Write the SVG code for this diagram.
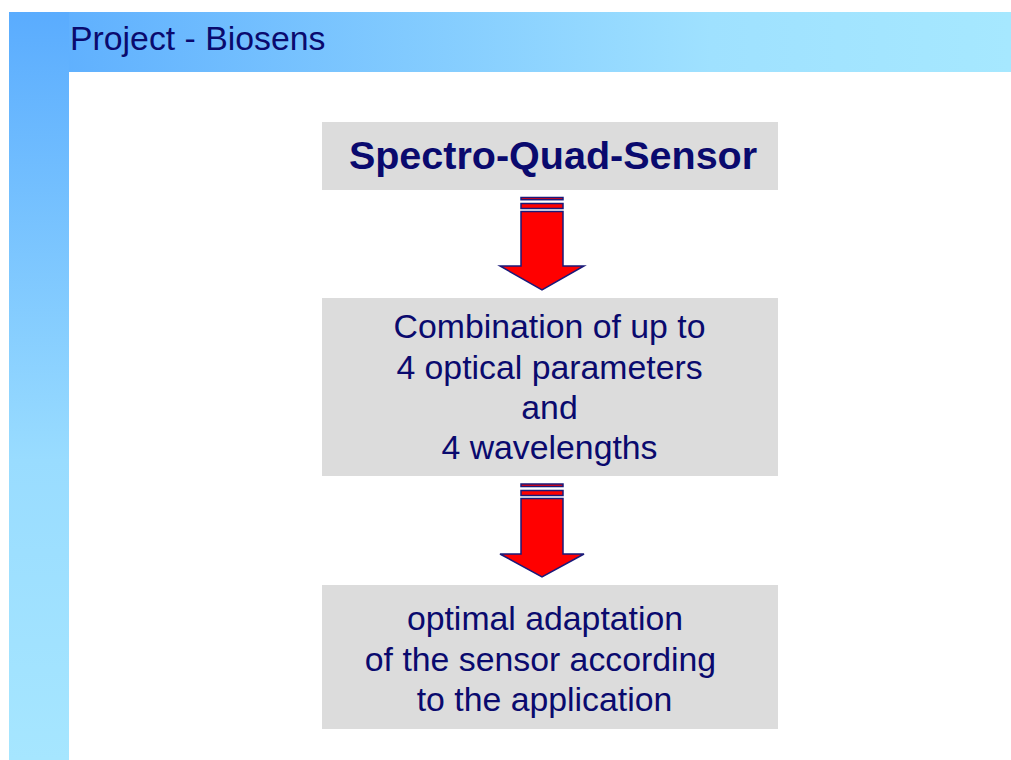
<svg xmlns="http://www.w3.org/2000/svg" width="1011" height="760" viewBox="0 0 1011 760">
<defs>
<linearGradient id="hg" x1="0" y1="0" x2="1" y2="0">
<stop offset="0" stop-color="#5aacfe"/>
<stop offset="0.7" stop-color="#9fe1ff"/>
<stop offset="1" stop-color="#a6e8ff"/>
</linearGradient>
<linearGradient id="vg" x1="0" y1="0" x2="0" y2="1">
<stop offset="0" stop-color="#5aacfe"/>
<stop offset="0.6" stop-color="#99dcff"/>
<stop offset="1" stop-color="#a6e6ff"/>
</linearGradient>
<style>
.box{fill:#dcdcdc}
.t{font-family:"Liberation Sans",Arial,sans-serif;fill:#0a0a6e;text-anchor:middle;font-size:33.8px}
.arr{fill:#ff0000;stroke:#1a1a7a;stroke-width:1.5;stroke-linejoin:miter}
</style>
</defs>
<rect width="1011" height="760" fill="#ffffff"/>
<g id="background">
<rect x="9" y="12" width="1002" height="60" fill="url(#hg)"/>
<rect x="9" y="12" width="60" height="748" fill="url(#vg)"/>
<text x="70" y="50" style="font-family:'Liberation Sans',Arial,sans-serif;font-size:33.8px;fill:#0a0a6e">Project - Biosens</text>
</g>
<g id="node1">
<rect class="box" x="322" y="122" width="456" height="68"/>
<text class="t" x="553" y="169" style="font-weight:bold;font-size:39.5px">Spectro-Quad-Sensor</text>
</g>
<g id="node2">
<rect class="box" x="322" y="298" width="456" height="178"/>
<text class="t" x="549.5" y="338">Combination of up to</text>
<text class="t" x="549.5" y="379">4 optical parameters</text>
<text class="t" x="549.5" y="419">and</text>
<text class="t" x="549.5" y="459">4 wavelengths</text>
</g>
<g id="node3">
<rect class="box" x="322" y="585" width="456" height="144"/>
<text class="t" x="545" y="630">optimal adaptation</text>
<text class="t" x="540.5" y="671">of the sensor according</text>
<text class="t" x="544.5" y="711">to the application</text>
</g>
<g id="connectors">
<g id="arrow1">
<rect class="arr" x="521" y="197.5" width="42" height="2.2"/>
<rect class="arr" x="521" y="203.5" width="42" height="5"/>
<polygon class="arr" points="521,211.5 563,211.5 563,266 584,266 542,290 500,266 521,266"/>
</g>
<g id="arrow2">
<rect class="arr" x="521" y="484" width="42" height="2.5"/>
<rect class="arr" x="521" y="490.5" width="42" height="5"/>
<polygon class="arr" points="521,498.5 563,498.5 563,554 584,554 542,577 500,554 521,554"/>
</g>
</g>
</svg>
